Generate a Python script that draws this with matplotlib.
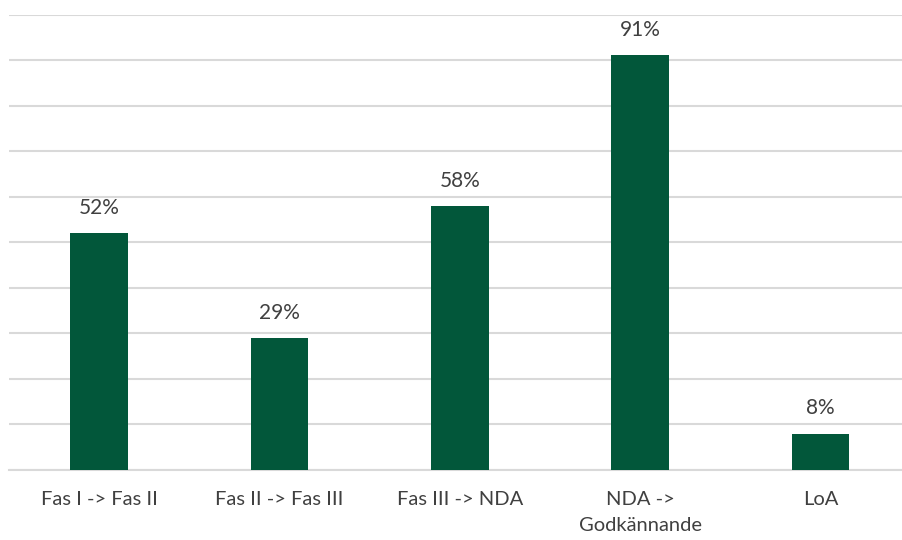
import matplotlib.pyplot as plt

categories = ["Fas I -> Fas II", "Fas II -> Fas III", "Fas III -> NDA", "NDA ->\nGodkännande", "LoA"]
values = [0.52, 0.29, 0.58, 0.91, 0.08]
labels = ["52%", "29%", "58%", "91%", "8%"]

plt.rcParams['font.family'] = ['Lato', 'DejaVu Sans']

fig = plt.figure(figsize=(9.03, 5.4), dpi=100)
ax = fig.add_axes([9 / 903, 70 / 540, 894 / 903, 455.5 / 540])

x = range(len(categories))
bars = ax.bar(x, values, width=0.32, color="#02573a", zorder=3)

for b, lab in zip(bars, labels):
    ax.annotate(lab, (b.get_x() + b.get_width() / 2, b.get_height()),
                xytext=(0, 11), textcoords="offset points",
                ha="center", va="bottom", fontsize=15, color="#404040")

ax.set_ylim(0, 1)
ax.set_xlim(-0.5, -0.5 + 894 / 180.3)
ax.set_yticks([i / 10 for i in range(11)])
ax.yaxis.grid(True, color="#d9d9d9", linewidth=1.5, zorder=0)
ax.tick_params(axis="y", left=False, labelleft=False)
ax.tick_params(axis="x", length=0, pad=15, labelsize=14.5, labelcolor="#404040")
ax.set_xticks(list(x))
ax.set_xticklabels(categories, linespacing=1.65)
for s in ["top", "right", "left"]:
    ax.spines[s].set_visible(False)
ax.spines["bottom"].set_color("#d9d9d9")
ax.spines["bottom"].set_linewidth(1.5)

fig.savefig("out.png", dpi=100)
